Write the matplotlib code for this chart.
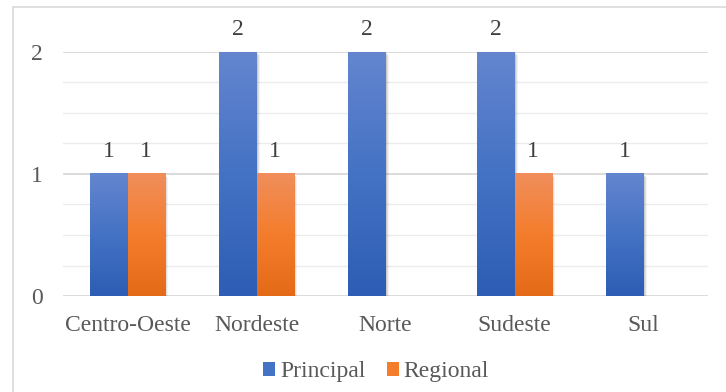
import matplotlib
matplotlib.use("Agg")
import matplotlib.pyplot as plt
import numpy as np
from matplotlib.colors import LinearSegmentedColormap
from matplotlib.patches import Rectangle, Patch

# data
regions = ["Centro-Oeste", "Nordeste", "Norte", "Sudeste", "Sul"]
principal = [1, 2, 2, 2, 1]
regional = [1, 1, None, 1, None]   # no bar / no label for Norte and Sul
series_names = ["Principal", "Regional"]

BLUE_TOP, BLUE_MID, BLUE_BOT = "#6486cf", "#4472c4", "#2d5db4"
ORNG_TOP, ORNG_MID, ORNG_BOT = "#f08e5c", "#f47d2c", "#e46a17"
GRID_MAJ = "#d9d9d9"
GRID_MIN = "#ececec"
TXT = "#595959"
LBL = "#404040"

plt.rcParams["font.family"] = ["Liberation Serif", "DejaVu Serif"]
FS = 17

blue_cm = LinearSegmentedColormap.from_list("b", [BLUE_BOT, BLUE_MID, BLUE_TOP])
orng_cm = LinearSegmentedColormap.from_list("o", [ORNG_BOT, ORNG_MID, ORNG_TOP])

fig = plt.figure(figsize=(7.26, 3.92), dpi=100)
fig.patch.set_facecolor("white")
# chart border (only top and left edges fall inside the picture)
fig.patches.append(Rectangle((13 / 726, -10 / 392), 760 / 726, 395 / 392,
                             transform=fig.transFigure, fill=False,
                             edgecolor=GRID_MAJ, linewidth=1.2))

ax = fig.add_axes([63 / 726, 1 - 296 / 392, 645 / 726, 244 / 392])
ax.set_facecolor("none")

x = np.arange(len(regions))
w = 0.287
grad = np.linspace(0, 1, 256).reshape(-1, 1)


def grad_bar(x0, h, cmap):
    # soft shadow to the lower right
    for k, a in ((3, 0.05), (2, 0.07), (1, 0.09)):
        dx, dy = k * 0.0078, k * 0.0082
        ax.add_patch(Rectangle((x0 + dx, -dy), w, h, facecolor="#000000",
                               edgecolor="none", alpha=a, zorder=2))
    ax.imshow(grad, extent=[x0, x0 + w, 0, h], origin="lower", cmap=cmap,
              aspect="auto", zorder=3, interpolation="bicubic")


for i, (p, r) in enumerate(zip(principal, regional)):
    if p is not None:
        grad_bar(x[i] - w, p, blue_cm)
        ax.annotate(str(p), (x[i] - w / 2, p), xytext=(0, 12), textcoords="offset points",
                    ha="center", va="baseline", fontsize=FS, color=LBL)
    if r is not None:
        grad_bar(x[i], r, orng_cm)
        ax.annotate(str(r), (x[i] + w / 2, r), xytext=(0, 12), textcoords="offset points",
                    ha="center", va="baseline", fontsize=FS, color=LBL)

ax.set_xlim(-0.5, len(regions) - 0.5)
ax.set_ylim(0, 2)
ax.set_yticks([0, 1, 2])
ax.set_yticks(np.arange(0, 2.01, 0.25), minor=True)
ax.grid(axis="y", which="minor", color=GRID_MIN, linewidth=1, zorder=0)
ax.grid(axis="y", which="major", color=GRID_MAJ, linewidth=1.3, zorder=1)
ax.set_axisbelow(True)
ax.set_xticks(x)
ax.set_xticklabels(regions)
ax.tick_params(axis="both", which="both", length=0, labelsize=FS, labelcolor=TXT)
ax.tick_params(axis="x", pad=14)
ax.tick_params(axis="y", pad=14.5)
for s in ax.spines.values():
    s.set_visible(False)

handles = [Patch(facecolor=BLUE_MID, edgecolor="none"),
           Patch(facecolor=ORNG_MID, edgecolor="none")]
leg = fig.legend(handles, series_names, loc="center", bbox_to_anchor=(376 / 726, 1 - 372 / 392),
                 ncol=2, frameon=False, fontsize=FS, handlelength=0.52, handleheight=0.52,
                 handletextpad=0.2, columnspacing=0.9, labelcolor=TXT)

fig.savefig("out.png", dpi=100, facecolor="white")
